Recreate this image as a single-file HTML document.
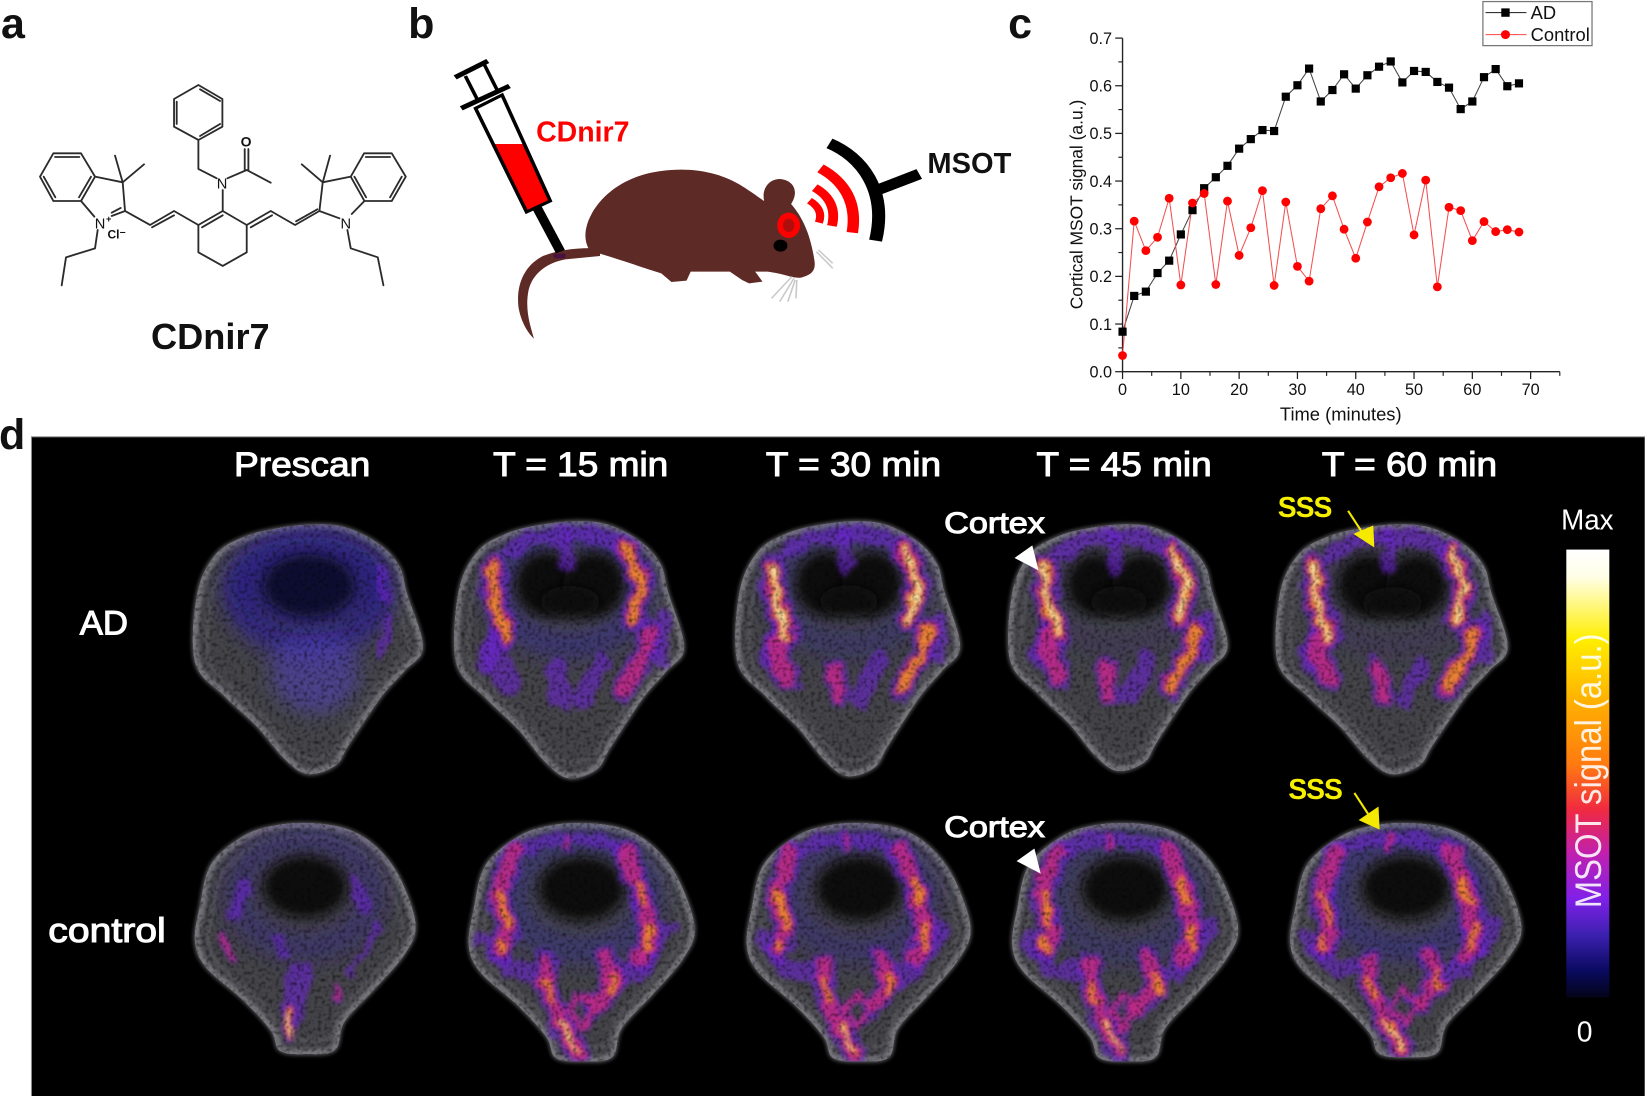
<!DOCTYPE html>
<html lang="en">
<head>
<meta charset="utf-8">
<title>CDnir7 MSOT figure</title>
<style>
html,body{margin:0;padding:0;background:#fff}
svg{display:block}
text{font-family:"Liberation Sans",sans-serif}
</style>
</head>
<body>
<svg id="fig" xmlns="http://www.w3.org/2000/svg" width="1645" height="1096" viewBox="0 0 1568 1045" preserveAspectRatio="none">
<defs>
<filter id="grain" x="0" y="0" width="100%" height="100%" color-interpolation-filters="sRGB">
<feTurbulence type="fractalNoise" baseFrequency="0.3" numOctaves="2" seed="4" result="n"/>
<feColorMatrix in="n" type="matrix" values="1.5 0 0 0 0.2 1.5 0 0 0 0.2 1.5 0 0 0 0.2 0 0 0 0 1" result="m"/>
<feGaussianBlur in="m" stdDeviation="0.5" result="ms"/>
<feBlend in="SourceGraphic" in2="ms" mode="multiply" result="b"/>
<feComposite in="b" in2="SourceAlpha" operator="in"/>
</filter>
<filter id="heat" x="-20%" y="-20%" width="140%" height="140%" color-interpolation-filters="sRGB">
<feTurbulence type="fractalNoise" baseFrequency="0.07" numOctaves="2" seed="9" result="t"/>
<feDisplacementMap in="SourceGraphic" in2="t" scale="15" xChannelSelector="R" yChannelSelector="G" result="d"/>
<feGaussianBlur in="d" stdDeviation="2.4"/>
</filter>
<filter id="b1" x="-30%" y="-30%" width="160%" height="160%"><feGaussianBlur stdDeviation="1.8"/></filter>
<filter id="b3" x="-50%" y="-50%" width="200%" height="200%"><feGaussianBlur stdDeviation="9"/></filter>
<filter id="b4" x="-50%" y="-50%" width="200%" height="200%"><feGaussianBlur stdDeviation="5"/></filter>
<linearGradient id="cbar" x1="0" y1="0" x2="0" y2="1">
<stop offset="0" stop-color="#ffffff"/>
<stop offset="0.06" stop-color="#ffffe8"/>
<stop offset="0.2" stop-color="#ffee00"/>
<stop offset="0.33" stop-color="#ffb400"/>
<stop offset="0.48" stop-color="#ff7a10"/>
<stop offset="0.58" stop-color="#f02a40"/>
<stop offset="0.68" stop-color="#c020b0"/>
<stop offset="0.78" stop-color="#8020e8"/>
<stop offset="0.86" stop-color="#3c20b0"/>
<stop offset="0.94" stop-color="#0a0a60"/>
<stop offset="1" stop-color="#040418"/>
</linearGradient>
</defs>

<rect width="1568" height="1045" fill="#fff"/>

<text x="1" y="36" font-size="41" font-weight="700" fill="#111">a</text>
<text x="389" y="36" font-size="41" font-weight="700" fill="#111">b</text>
<text x="961" y="36" font-size="41" font-weight="700" fill="#111">c</text>

<!-- panel a: molecule, coordinates are zoom units -->
<g transform="scale(0.3178)" fill="none" stroke="#2b2b2b" stroke-width="5.5" stroke-linejoin="round" stroke-linecap="round">
<path d="M160 460H243L285 530L243 603H160L120 530Z M165 471H238 M131 530L166 592 M273 530L237 592"/>
<path d="M285 530L368 547L375 633L335 648 M283 650L243 603 M368 547L345 467 M368 547L432 493 M362 624L335 638"/>
<path d="M293 690L285 745L198 772L185 856"/>
<path d="M375 633L450 675L522 633L595 675 M456 682L522 646"/>
<path d="M595 675L668 633L740 675L740 757L668 798L595 757Z M606 682L668 646"/>
<path d="M668 633V570 M650 535L595 507V420L667 380V297L595 255L522 297V380L595 420 M530 305V372 M600 268L660 303 M660 372L600 408"/>
<path d="M682 535L740 510L812 548 M734 510V447 M745 510V447"/>
<path d="M740 675L812 633L885 675L958 633 M752 682L816 646 M888 664L952 628"/>
<path d="M958 633L968 547L1052 530L1093 603L1055 642 M1018 655L958 633 M968 547L990 467 M968 547L905 493 M1052 530L1092 460H1175L1217 530L1175 603H1093 M1097 471H1170 M1205 530L1170 592 M1063 530L1098 592"/>
<path d="M1042 690L1052 745L1133 772L1150 856"/>
<g stroke="none" fill="#111" font-size="40" font-weight="700" text-anchor="middle">
<text x="300" y="686" font-size="44" font-weight="400">N</text>
<text x="326" y="666" font-size="28">+</text>
<text x="350" y="715" font-size="36">Cl⁻</text>
<text x="666" y="566" font-size="44" font-weight="400">N</text>
<text x="738" y="440" font-size="42">O</text>
<text x="1037" y="686" font-size="44" font-weight="400">N</text>
</g>
</g>
<text x="200.500" y="333" font-size="34.500" font-weight="700" text-anchor="middle" fill="#111">CDnir7</text>

<!-- panel b: schematic, coordinates are zoom units -->
<g transform="translate(381.3 0) scale(0.3891 0.3178)">
<path d="M490 745C430 742 390 750 350 768C300 800 285 860 290 920C295 960 310 995 328 1016C320 980 305 930 315 870C325 820 360 788 405 778L490 768Z" fill="#5e2a25"/>
<path d="M465 752C448 720 452 680 470 640C500 575 560 525 640 513C720 500 790 520 840 560C860 575 878 592 892 603C885 565 905 537 930 537C965 540 978 575 958 612C985 650 1005 700 1015 780C1020 815 1005 825 985 832C965 838 945 822 900 815L870 815L888 845L855 850L838 840L808 815H712L702 842L665 846L640 820C600 805 530 775 465 752Z" fill="#5e2a25"/>
<polygon points="375,762 405,760 405,775 378,775" fill="#4a1040"/>
<ellipse cx="952" cy="676" rx="28" ry="38" fill="#f00"/>
<ellipse cx="952" cy="676" rx="14" ry="20" fill="#b00d0d"/>
<ellipse cx="932" cy="737" rx="17" ry="18" fill="#000"/>
<path d="M960 830L910 895 M965 835L930 905 M968 840L950 905 M972 840L970 895 M1020 755L1060 805 M1025 750L1060 790" stroke="#c9c9c9" stroke-width="4" fill="none"/>
<g fill="none" stroke="#000" stroke-linecap="butt">
<polygon points="228,432 304,432 368,603 310,636" fill="#f00" stroke="none"/>
<polygon points="185,325 250,285 368,603 310,636" stroke-width="9"/>
<line x1="335" y1="622" x2="393" y2="755" stroke-width="24"/>
<line x1="150" y1="325" x2="268" y2="258" stroke-width="14"/>
<line x1="135" y1="232" x2="215" y2="183" stroke-width="14"/>
<line x1="160" y1="228" x2="190" y2="300" stroke-width="9"/>
<line x1="205" y1="190" x2="240" y2="275" stroke-width="9"/>
</g>
<g fill="none" stroke="#f00">
<path d="M1030 505C1090 545 1120 610 1108 698" stroke-width="28"/>
<path d="M1016 563C1055 590 1068 630 1058 678" stroke-width="24"/>
<path d="M1003 602C1025 618 1035 640 1026 668" stroke-width="20"/>
</g>
<path d="M1052 430C1130 470 1195 570 1165 722" fill="none" stroke="#000" stroke-width="32"/>
<line x1="1170" y1="570" x2="1272" y2="522" stroke="#000" stroke-width="32"/>
</g>
<text x="511" y="135" font-size="27" font-weight="700" fill="#f00" textLength="89" lengthAdjust="spacingAndGlyphs">CDnir7</text>
<text x="884" y="165" font-size="27" font-weight="700" fill="#111" textLength="80" lengthAdjust="spacingAndGlyphs">MSOT</text>

<!-- panel c chart -->
<g id="chart"></g>
<g>
<rect x="1413.500" y="1.500" width="104" height="42" fill="#fff" stroke="#777" stroke-width="1.2"/>
<g>
<line x1="1416" y1="12" x2="1455" y2="12" stroke="#333" stroke-width="1"/>
<rect x="1431" y="8" width="8" height="8" fill="#000"/>
<text x="1459" y="18" font-size="17.500" fill="#111">AD</text>
</g>
<g>
<line x1="1416" y1="33" x2="1455" y2="33" stroke="#f44" stroke-width="1"/>
<circle cx="1435" cy="33" r="4.300" fill="#f00"/>
<text x="1459" y="39" font-size="17.500" fill="#111">Control</text>
</g>
</g>

<!-- panel d -->
<text x="-1" y="428" font-size="41" font-weight="700" fill="#111">d</text>
<rect x="30" y="416.500" width="1538" height="629" fill="#000" stroke="#8a8a8a" stroke-width="1"/>
<g id="brains"></g>
<g fill="#fff" stroke="#fff" stroke-width="1">
<text x="223" y="454" font-size="33" textLength="130" lengthAdjust="spacingAndGlyphs">Prescan</text>
<text x="470" y="454" font-size="33" textLength="167" lengthAdjust="spacingAndGlyphs">T = 15  min</text>
<text x="730" y="454" font-size="33" textLength="167" lengthAdjust="spacingAndGlyphs">T = 30  min</text>
<text x="988" y="454" font-size="33" textLength="167" lengthAdjust="spacingAndGlyphs">T = 45  min</text>
<text x="1260" y="454" font-size="33" textLength="167" lengthAdjust="spacingAndGlyphs">T = 60  min</text>
<text x="76" y="605" font-size="33" textLength="46" lengthAdjust="spacingAndGlyphs">AD</text>
<text x="46" y="898" font-size="33" textLength="112" lengthAdjust="spacingAndGlyphs">control</text>
<text x="900" y="508" font-size="28" textLength="96" lengthAdjust="spacingAndGlyphs">Cortex</text>
<text x="900" y="798" font-size="28" textLength="96" lengthAdjust="spacingAndGlyphs">Cortex</text>
</g>
<text x="1218" y="493" font-size="27" font-weight="700" fill="#f6f000" textLength="52">SSS</text>
<text x="1228" y="762" font-size="27" font-weight="700" fill="#f6f000" textLength="52">SSS</text>
<polygon points="967,532 984,520 990,544" fill="#fff"/>
<polygon points="969,821 986,809 992,833" fill="#fff"/>
<g>
<line x1="1285" y1="487" x2="1300" y2="510" stroke="#f6e900" stroke-width="2"/>
<polygon points="1290,509 1309,501 1310,522" fill="#f6e900"/>
</g>
<g>
<line x1="1291" y1="756" x2="1304" y2="776" stroke="#f6e900" stroke-width="2"/>
<polygon points="1295,782 1314,769 1315,791" fill="#f6e900"/>
</g>
<rect x="1493" y="524" width="41" height="427" fill="url(#cbar)"/>
<text transform="translate(1526 866) rotate(-90)" font-size="35" fill="#fff" fill-opacity="0.88" textLength="262" lengthAdjust="spacingAndGlyphs">MSOT signal (a.u.)</text>
<text x="1488" y="505" font-size="27" fill="#fff" textLength="50" lengthAdjust="spacingAndGlyphs">Max</text>
<text x="1503" y="993" font-size="27" fill="#fff">0</text>
</svg>

<script>
// ---------- chart data ----------
const timeMinutes = [0,2,4,6,8,10,12,14,16,18,20,22,24,26,28,30,32,34,36,38,40,42,44,46,48,50,52,54,56,58,60,62,64,66,68];
const adSignal = [.084,.159,.168,.207,.233,.288,.339,.385,.408,.432,.468,.488,.507,.505,.577,.601,.636,.567,.591,.624,.594,.622,.640,.651,.607,.631,.629,.608,.596,.551,.567,.618,.635,.599,.605];
const controlSignal = [.034,.316,.254,.282,.364,.182,.354,.374,.183,.358,.244,.302,.380,.181,.356,.221,.190,.342,.369,.299,.238,.314,.388,.407,.416,.287,.402,.178,.345,.338,.275,.315,.294,.298,.293];
const xTickLabels = [0,10,20,30,40,50,60,70];
const yTickLabels = ['0.0','0.1','0.2','0.3','0.4','0.5','0.6','0.7'];
const xMinorTicks = [5,15,25,35,45,55,65,75];
const yMinorTicks = [.05,.15,.25,.35,.45,.55,.65];

const NS = 'http://www.w3.org/2000/svg';
function mk(tag, attrs, parent){
  const e = document.createElementNS(NS, tag);
  for (const k in attrs) e.setAttribute(k, attrs[k]);
  parent.appendChild(e);
  return e;
}
const xScale = v => 1070 + v * 5.557;
const yScale = v => 354.4 - v * 454.4;
const chart = document.getElementById('chart');
const axisColor = '#222';

const xAxis = mk('line', {x1:xScale(0), y1:yScale(0), x2:xScale(75), y2:yScale(0), stroke:axisColor, 'stroke-width':1.3}, chart);


const yAxis = mk('line', {x1:xScale(0), y1:yScale(0)+.6, x2:xScale(0), y2:yScale(.7), stroke:axisColor, 'stroke-width':1.3}, chart);



xTickLabels.forEach(v => {
  const t = mk('line', {x1:xScale(v), y1:yScale(0), x2:xScale(v), y2:yScale(0)+7, stroke:axisColor, 'stroke-width':1.2}, chart);
  
  
  const l = mk('text', {x:xScale(v), y:yScale(0)+22, 'font-size':15.5, 'text-anchor':'middle', fill:'#111'}, chart);
  l.textContent = v;
  
  
});
xMinorTicks.forEach(v => {
  const t = mk('line', {x1:xScale(v), y1:yScale(0), x2:xScale(v), y2:yScale(0)+4, stroke:axisColor, 'stroke-width':1.1}, chart);
  
  
});
yTickLabels.forEach(s => {
  const v = parseFloat(s);
  const t = mk('line', {x1:xScale(0)-7, y1:yScale(v), x2:xScale(0), y2:yScale(v), stroke:axisColor, 'stroke-width':1.2}, chart);
  
  
  const l = mk('text', {x:xScale(0)-10, y:yScale(v)+5.5, 'font-size':15.5, 'text-anchor':'end', fill:'#111'}, chart);
  l.textContent = s;
  
  
});
yMinorTicks.forEach(v => {
  const t = mk('line', {x1:xScale(0)-4, y1:yScale(v), x2:xScale(0), y2:yScale(v), stroke:axisColor, 'stroke-width':1.1}, chart);
  
  
});

const xTitle = mk('text', {x:1278, y:401, 'font-size':17.5, 'text-anchor':'middle', fill:'#111'}, chart);
xTitle.textContent = 'Time (minutes)';


const yTitle = mk('text', {transform:'translate(1032 195) rotate(-90)', 'font-size':16.6, 'text-anchor':'middle', fill:'#111'}, chart);
yTitle.textContent = 'Cortical MSOT signal (a.u.)';



const adLine = mk('polyline', {points:timeMinutes.map((t,i)=>xScale(t)+','+yScale(adSignal[i])).join(' '), fill:'none', stroke:'#444', 'stroke-width':1}, chart);


const ctlLine = mk('polyline', {points:timeMinutes.map((t,i)=>xScale(t)+','+yScale(controlSignal[i])).join(' '), fill:'none', stroke:'#f45050', 'stroke-width':1}, chart);


timeMinutes.forEach((t,i) => {
  const s = mk('rect', {x:xScale(t)-3.9, y:yScale(adSignal[i])-3.9, width:7.8, height:7.8, fill:'#000'}, chart);
  
  
});
timeMinutes.forEach((t,i) => {
  const c = mk('circle', {cx:xScale(t), cy:yScale(controlSignal[i]), r:4.2, fill:'#f00'}, chart);
  
  
});

// ---------- brain illustrations (pictorial, not chart data) ----------
const adOutline = [[690,240],[760,250],[830,290],[870,340],[885,400],[920,525],[880,580],[830,640],[760,750],[730,800],[670,820],[620,785],[560,710],[490,640],[425,560],[430,400],[470,310],[530,270],[600,250]];
const ctlOutline = [[680,935],[760,950],[820,990],[870,1060],[905,1170],[880,1240],[815,1320],[750,1395],[730,1460],[670,1470],[610,1462],[590,1415],[530,1345],[450,1270],[425,1210],[435,1130],[460,1030],[530,965],[600,940]];
const adStreaks = [
 {p:[[1011,528],[1030,516],[1073,511],[1095,514],[1115,524]],w:8,l:0},
 {p:[[1000,600],[990,630]],w:9,l:0},
 {p:[[1150,590],[1148,625]],w:8,l:0},
 {p:[[996,540],[998,573],[1009,605]],w:13,l:3},
 {p:[[1000,610],[1000,626],[1010,645]],w:13,l:1},
 {p:[[1118,525],[1132,557],[1123,590]],w:12,l:3},
 {p:[[1140,600],[1135,620],[1115,655]],w:12,l:2},
 {p:[[1052,635],[1059,663]],w:10,l:1},
 {p:[[1094,630],[1077,663]],w:9,l:0},
 {p:[[1063,515],[1063,540]],w:7,l:0}
];
const ctlStreaks = [
 {p:[[1010,812],[1035,803],[1059,799],[1090,803],[1112,812]],w:7,l:0},
 {p:[[985,895],[1005,925],[1025,925]],w:9,l:0},
 {p:[[1150,885],[1125,925],[1105,930]],w:9,l:0},
 {p:[[1010,812],[996,852],[1005,889],[998,906]],w:12,l:1},
 {p:[[1112,812],[1127,852],[1136,893],[1125,915]],w:12,l:1},
 {p:[[998,852],[1004,882]],w:9,l:2},
 {p:[[998,898],[1000,908]],w:9,l:2},
 {p:[[1124,840],[1128,860]],w:9,l:2},
 {p:[[1134,885],[1132,905]],w:9,l:2},
 {p:[[1059,795],[1059,808]],w:5,l:1},
 {p:[[1040,918],[1040,943],[1057,984],[1069,1004]],w:11,l:1},
 {p:[[1040,935],[1045,955]],w:8,l:2},
 {p:[[1094,914],[1102,939],[1085,960]],w:11,l:1},
 {p:[[1100,930],[1102,945]],w:8,l:2},
 {p:[[1060,963],[1071,948],[1083,963],[1071,982],[1060,963]],w:4,l:1},
 {p:[[1054,975],[1069,1004]],w:7,l:3}
];
const prescanAdStreaks = [
 {p:[[361,545],[368,570]],w:6,l:0},
 {p:[[372,590],[362,625]],w:5,l:0}
];
const prescanCtlStreaks = [
 {p:[[232,844],[223,873]],w:7,l:0},
 {p:[[337,836],[346,865]],w:6,l:0},
 {p:[[361,881],[333,930]],w:3,l:0},
 {p:[[263,893],[270,910]],w:4,l:0},
 {p:[[210,889],[221,914]],w:4,l:1},
 {p:[[285,930],[280,965]],w:12,l:0},
 {p:[[276,965],[276,988]],w:6,l:3},
 {p:[[322,942],[322,952]],w:4,l:1}
];
const scans = [
 {o:adOutline,x:186,y:500,w:217,h:238,s:prescanAdStreaks,abs:true,halo:.6,d:0,kind:'ad',pre:true},
 {o:adOutline,x:435,y:497,w:217,h:245,s:adStreaks,halo:.45,d:-1,kind:'ad'},
 {o:adOutline,x:703,y:497,w:212,h:243,s:adStreaks,halo:.3,d:0,kind:'ad'},
 {o:adOutline,x:963,y:500,w:207,h:235,s:adStreaks,halo:.12,d:0,kind:'ad'},
 {o:adOutline,x:1218,y:500,w:219,h:238,s:adStreaks,halo:.12,d:0,kind:'ad'},
 {o:ctlOutline,x:186,y:785,w:210,h:220,s:prescanCtlStreaks,abs:true,halo:.35,d:0,kind:'ctl'},
 {o:ctlOutline,x:447,y:785,w:215,h:227,s:ctlStreaks,halo:.4,d:0,kind:'ctl'},
 {o:ctlOutline,x:712,y:785,w:213,h:227,s:ctlStreaks,halo:.35,d:0,kind:'ctl'},
 {o:ctlOutline,x:965,y:785,w:215,h:227,s:ctlStreaks,halo:.3,d:0,kind:'ctl'},
 {o:ctlOutline,x:1230,y:785,w:220,h:223,s:ctlStreaks,halo:.45,d:0,kind:'ctl'}
];
const heatPalette = [['#6a24d0',2.0,.62],['#c52c84',1.25,.85],['#f08a2c',.75,.92],['#ffeeb0',.32,1]];
function smoothPath(pts){
  const n = pts.length;
  let d = 'M'+pts[0][0].toFixed(1)+' '+pts[0][1].toFixed(1);
  for (let i = 0; i < n; i++){
    const p0=pts[(i-1+n)%n], p1=pts[i], p2=pts[(i+1)%n], p3=pts[(i+2)%n];
    const c1x=p1[0]+(p2[0]-p0[0])/6, c1y=p1[1]+(p2[1]-p0[1])/6;
    const c2x=p2[0]-(p3[0]-p1[0])/6, c2y=p2[1]-(p3[1]-p1[1])/6;
    d+='C'+c1x.toFixed(1)+' '+c1y.toFixed(1)+' '+c2x.toFixed(1)+' '+c2y.toFixed(1)+' '+p2[0].toFixed(1)+' '+p2[1].toFixed(1);
  }
  return d+'Z';
}
const brains = document.getElementById('brains');
const svgDefs = document.querySelector('#fig defs');
scans.forEach((b,idx) => {
  const xs = b.o.map(p=>p[0]), ys = b.o.map(p=>p[1]);
  const minX = Math.min(...xs), maxX = Math.max(...xs), minY = Math.min(...ys), maxY = Math.max(...ys);
  const pts = b.o.map(p => [b.x+(p[0]-minX)/(maxX-minX)*b.w, b.y+(p[1]-minY)/(maxY-minY)*b.h]);
  const d = smoothPath(pts);
  const cx = b.x+b.w/2, cyMid = b.y+b.h/2;
  const clip = mk('clipPath', {id:'clip'+idx}, svgDefs);
  mk('path', {d}, clip);
  const g = mk('g', {}, brains);
  
  
  mk('path', {d, fill:'#5c5c62', stroke:'#4c4c50', 'stroke-width':3, filter:'url(#b1)'}, g);
  const base = mk('g', {filter:'url(#grain)'}, g);
  mk('path', {d, fill:'#444449'}, base);
  const inner = mk('g', {'clip-path':'url(#clip'+idx+')'}, base);
  mk('path', {d, fill:'none', stroke:'#76767c', 'stroke-width':10, filter:'url(#b1)'}, inner);
  mk('path', {d, fill:'none', stroke:'#6c6c72', 'stroke-width':4, 'stroke-opacity':.45, filter:'url(#b1)', transform:'translate('+cx+' '+cyMid+') scale(.88) translate('+(-cx)+' '+(-cyMid)+')'}, inner);
  const isAd = b.kind==='ad';
  const holeY = b.y + b.h*(isAd?.245:.275);
  const hrx = b.w*(isAd?.2:.19), hry = b.h*(isAd?.125:.135);
  mk('ellipse', {cx, cy:holeY+6, rx:hrx+24, ry:hry+22, fill:'none', stroke:'#3320a8', 'stroke-width':26, 'stroke-opacity':b.halo, filter:'url(#b3)'}, inner);
  if (b.pre) {
    mk('ellipse', {cx:cx+6, cy:b.y+140, rx:42, ry:40, fill:'#5040b8', 'fill-opacity':.6, filter:'url(#b3)'}, inner);
    mk('ellipse', {cx:cx, cy:holeY, rx:78, ry:46, fill:'#221a86', 'fill-opacity':.55, filter:'url(#b3)'}, inner);
  }
  const holeFill = b.pre ? '#0e0c30' : '#0b0b10';
  if (isAd && !b.pre) {
    mk('ellipse', {cx:cx-b.w*.105, cy:holeY, rx:b.w*.135, ry:hry, fill:holeFill, filter:'url(#b4)'}, inner);
    mk('ellipse', {cx:cx+b.w*.105, cy:holeY, rx:b.w*.135, ry:hry, fill:holeFill, filter:'url(#b4)'}, inner);
    mk('ellipse', {cx, cy:holeY+hry*.55, rx:b.w*.13, ry:hry*.5, fill:holeFill, filter:'url(#b4)'}, inner);
  } else {
    mk('ellipse', {cx, cy:holeY, rx:hrx, ry:hry, fill:holeFill, filter:'url(#b4)'}, inner);
  }
  const sx = b.w/207, sy = b.h/(isAd?235:227), y0 = isAd?500:785, tcx = isAd?1066.5:1072.5;
  const heatG = mk('g', {filter:'url(#heat)'}, inner);
  for (let i = 0; i < 4; i++) {
    b.s.forEach(st => {
      const level = Math.max(0, st.l + b.d);
      if (i > level) return;
      const spts = st.p.map(p => b.abs ? p[0]+','+p[1]
        : (cx+(p[0]-tcx)*sx).toFixed(1)+','+(b.y+(p[1]-y0)*sy).toFixed(1)).join(' ');
      const pal = heatPalette[i];
      mk('polyline', {points:spts, fill:'none', stroke:pal[0], 'stroke-width':st.w*pal[1], 'stroke-opacity':pal[2], 'stroke-linecap':'round', 'stroke-linejoin':'round'}, heatG);
    });
  }
});
</script>
</body>
</html>
